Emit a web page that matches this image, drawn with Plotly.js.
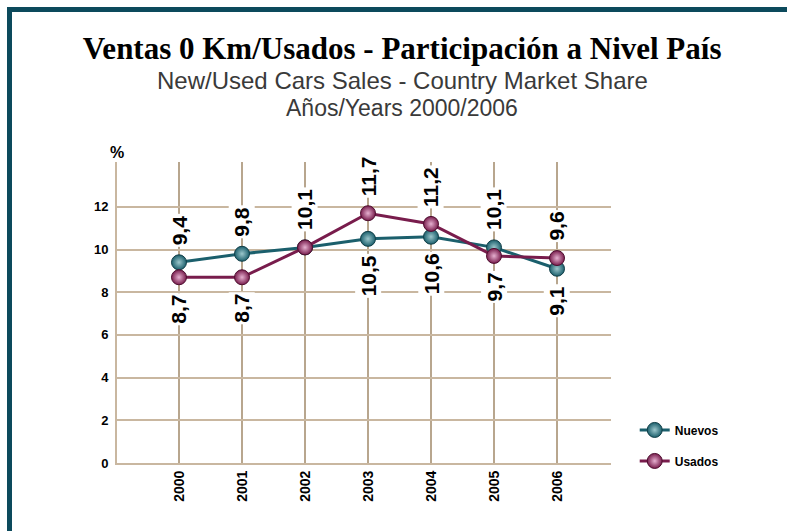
<!DOCTYPE html>
<html>
<head>
<meta charset="utf-8">
<script src="https://cdn.plot.ly/plotly-3.0.1.min.js"></script>
<style>
  html, body { margin: 0; padding: 0; background: #ffffff; }
  #wrap { position: relative; width: 787px; height: 531px; overflow: hidden; }
  #chart { position: absolute; left: 0; top: 0; width: 787px; height: 531px; }
  #frame { position: absolute; left: 7px; top: 7px; width: 790px; height: 540px;
           border-top: 5px solid #0c4a5c; border-left: 5px solid #0c4a5c; pointer-events: none; }
</style>
</head>
<body>
<div id="wrap">
  <div id="chart"></div>
  <div id="frame"></div>
</div>
<script>
// ---- Data ----
const years = [2000, 2001, 2002, 2003, 2004, 2005, 2006];
const yearLabels = ['2000', '2001', '2002', '2003', '2004', '2005', '2006'];
const nuevos = [9.4, 9.8, 10.1, 10.5, 10.6, 10.1, 9.1];
const usados = [8.7, 8.7, 10.1, 11.7, 11.2, 9.7, 9.6];
const yTicks = [0, 2, 4, 6, 8, 10, 12];
const seriesNames = ['Nuevos', 'Usados'];
const titleText = 'Ventas 0 Km/Usados - Participación a Nivel País';
const subtitle1 = 'New/Used Cars Sales - Country Market Share';
const subtitle2 = 'Años/Years 2000/2006';
const unitLabel = '%';

// ---- Styles ----
const teal = '#1b5f6c', tealLight = '#9cc7cc';
const purple = '#781c4c', purpleLight = '#e6b0d0';
const gridCol = '#c9b7a0';
const narrow = '"Liberation Sans Narrow", "Arial Narrow", Arial, sans-serif';

const fmt = v => v.toFixed(1).replace('.', ',');

const traces = [
  {
    x: years, y: nuevos, name: seriesNames[0], type: 'scatter', mode: 'lines+markers',
    line: { color: teal, width: 3 },
    marker: { size: 15, color: teal, line: { color: '#123f48', width: 1 },
              gradient: { type: 'radial', color: tealLight } },
    hoverinfo: 'skip', legendgroup: 'a'
  },
  {
    x: years, y: usados, name: seriesNames[1], type: 'scatter', mode: 'lines+markers',
    line: { color: purple, width: 3 },
    marker: { size: 15, color: purple, line: { color: '#4e0f30', width: 1 },
              gradient: { type: 'radial', color: purpleLight } },
    hoverinfo: 'skip', legendgroup: 'b'
  }
];

// value labels (rotated), above the higher point and below the lower one
const labelFont = { family: narrow, size: 21, color: '#000000', weight: 'bold' };
const annotations = [];
years.forEach((yr, i) => {
  const n = nuevos[i], u = usados[i];
  const hi = Math.max(n, u), lo = Math.min(n, u);
  annotations.push({ x: yr, y: hi, xref: 'x', yref: 'y', text: '<b>' + fmt(hi) + '</b>', showarrow: false,
    textangle: -90, yanchor: 'bottom', xanchor: 'center', yshift: 15, bgcolor: '#ffffff',
    borderpad: 1, font: labelFont });
  if (n !== u) {
    annotations.push({ x: yr, y: lo, xref: 'x', yref: 'y', text: '<b>' + fmt(lo) + '</b>', showarrow: false,
      textangle: -90, yanchor: 'top', xanchor: 'center', yshift: -15, bgcolor: '#ffffff',
      borderpad: 1, font: labelFont });
  }
});
annotations.push({ xref: 'paper', yref: 'paper', x: 0, y: 1, yshift: 10, text: unitLabel,
  showarrow: false, xanchor: 'center', yanchor: 'middle',
  font: { family: 'Arial, sans-serif', size: 16, color: '#000', weight: 'bold' } });
annotations.push({ xref: 'paper', yref: 'paper', x: 0.577, y: 1.272, text: subtitle1,
  showarrow: false, xanchor: 'center', yanchor: 'middle',
  font: { family: 'Arial, sans-serif', size: 24, color: '#3a3a3a' } });
annotations.push({ xref: 'paper', yref: 'paper', x: 0.577, y: 1.18, text: subtitle2,
  showarrow: false, xanchor: 'center', yanchor: 'middle',
  font: { family: 'Arial, sans-serif', size: 23, color: '#3a3a3a' } });

const layout = {
  width: 787, height: 531,
  margin: { l: 117, r: 176, t: 162, b: 68 },
  paper_bgcolor: '#ffffff', plot_bgcolor: '#ffffff',
  showlegend: true,
  title: { text: titleText, x: 0.511, xanchor: 'center', y: 0.91, yanchor: 'middle',
           yref: 'container',
           font: { family: '"Liberation Serif", "Times New Roman", serif', size: 31,
                   color: '#000000', weight: 'bold' } },
  xaxis: {
    range: [1999.016, 2006.857], tickvals: years, ticktext: yearLabels, tickangle: -90,
    showgrid: true, gridcolor: '#b8a68e', gridwidth: 2, zeroline: false,
    showline: true, linecolor: gridCol, linewidth: 2,
    ticks: '', tickfont: { family: narrow, size: 14, color: '#000', weight: 'bold' },
    fixedrange: true
  },
  yaxis: {
    range: [0, 14.1], tickvals: yTicks, ticktext: yTicks.map(String),
    showgrid: true, gridcolor: gridCol, gridwidth: 2, zeroline: false,
    showline: true, linecolor: gridCol, linewidth: 2,
    ticks: '', tickfont: { family: narrow, size: 13, color: '#000', weight: 'bold' },
    ticklabelstandoff: 4,
    fixedrange: true
  },
  legend: {
    x: 1.048, xanchor: 'left', y: 0.158, yanchor: 'top',
    traceorder: 'grouped', tracegroupgap: 12,
    font: { family: narrow, size: 12, color: '#000', weight: 'bold' },
    bgcolor: 'rgba(0,0,0,0)'
  },
  annotations: annotations
};

Plotly.newPlot('chart', traces, layout, { displayModeBar: false, staticPlot: true });
</script>
</body>
</html>
